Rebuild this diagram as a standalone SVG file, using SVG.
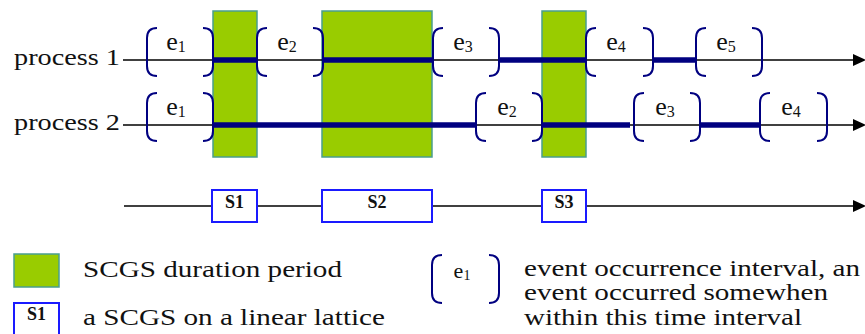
<svg xmlns="http://www.w3.org/2000/svg" xmlns:xlink="http://www.w3.org/1999/xlink" width="865" height="334" viewBox="0 0 865 334">
<style>
.t{font-family:"Liberation Serif","Times New Roman",serif;fill:#111}
.lbl{font-size:24px}
.sb{font-family:"Liberation Serif","Times New Roman",serif;font-weight:bold;font-size:18px;fill:#111}
.green{fill:#99cc00;stroke:#4a9e8e;stroke-width:1.5}
.thin{stroke:#000;stroke-width:1.5;fill:none}
.thick{stroke:#000080;stroke-width:5.5;fill:none}
.br{stroke:#000080;stroke-width:2;fill:none}
.box{fill:#fff;stroke:#1a1aff;stroke-width:2}
</style>
<defs>
<path id="lb" class="br" d="M10 0 C3 0 0 3 0 10 V38 C0 45 3 48 10 48"/>
<path id="rb" class="br" d="M0 0 C7 0 10 3 10 10 V38 C10 45 7 48 0 48"/>
<marker id="arr" markerUnits="userSpaceOnUse" markerWidth="14" markerHeight="12" refX="0" refY="6" orient="auto">
<path d="M0 0 L13 6 L0 12 Z" fill="#000"/>
</marker>
</defs>
<rect width="865" height="334" fill="#fff"/>

<g id="periods">
<rect id="period1" class="green" x="213" y="11" width="44" height="146"/>
<rect id="period2" class="green" x="322" y="11" width="110" height="146"/>
<rect id="period3" class="green" x="542" y="11" width="44" height="146"/>
</g>

<g id="connectors">
<line class="thin" x1="123" y1="60" x2="853" y2="60" marker-end="url(#arr)"/>
<line class="thin" x1="123" y1="125" x2="853" y2="125" marker-end="url(#arr)"/>
<line class="thin" x1="124" y1="206" x2="853" y2="206" marker-end="url(#arr)"/>
<path class="thick" d="M213 60 H257 M322 60 H433 M499 60 H586 M653 60 H696"/>
<path class="thick" d="M213 125 H476 M542 125 H630 M700 125 H760"/>
</g>

<g id="labels">
<text class="t lbl" x="14" y="65" textLength="106" lengthAdjust="spacingAndGlyphs">process 1</text>
<text class="t lbl" x="14" y="130" textLength="106" lengthAdjust="spacingAndGlyphs">process 2</text>
</g>

<g id="p1-events" font-family="Liberation Serif, Times New Roman, serif" font-size="26" fill="#111">
<g id="p1-e1"><use xlink:href="#lb" x="147" y="28"/><use xlink:href="#rb" x="203" y="28"/><text x="176" y="50" text-anchor="middle">e<tspan font-size="16" dy="2">1</tspan></text></g>
<g id="p1-e2"><use xlink:href="#lb" x="257" y="28"/><use xlink:href="#rb" x="313" y="28"/><text x="287" y="50" text-anchor="middle">e<tspan font-size="16" dy="2">2</tspan></text></g>
<g id="p1-e3"><use xlink:href="#lb" x="433" y="28"/><use xlink:href="#rb" x="489" y="28"/><text x="463" y="50" text-anchor="middle">e<tspan font-size="16" dy="2">3</tspan></text></g>
<g id="p1-e4"><use xlink:href="#lb" x="586" y="28"/><use xlink:href="#rb" x="643" y="28"/><text x="616" y="50" text-anchor="middle">e<tspan font-size="16" dy="2">4</tspan></text></g>
<g id="p1-e5"><use xlink:href="#lb" x="696" y="28"/><use xlink:href="#rb" x="752" y="28"/><text x="726" y="50" text-anchor="middle">e<tspan font-size="16" dy="2">5</tspan></text></g>
</g>

<g id="p2-events" font-family="Liberation Serif, Times New Roman, serif" font-size="26" fill="#111">
<g id="p2-e1"><use xlink:href="#lb" x="147" y="93"/><use xlink:href="#rb" x="203" y="93"/><text x="176" y="115" text-anchor="middle">e<tspan font-size="16" dy="2">1</tspan></text></g>
<g id="p2-e2"><use xlink:href="#lb" x="476" y="93"/><use xlink:href="#rb" x="532" y="93"/><text x="507" y="115" text-anchor="middle">e<tspan font-size="16" dy="2">2</tspan></text></g>
<g id="p2-e3"><use xlink:href="#lb" x="634" y="93"/><use xlink:href="#rb" x="690" y="93"/><text x="665" y="115" text-anchor="middle">e<tspan font-size="16" dy="2">3</tspan></text></g>
<g id="p2-e4"><use xlink:href="#lb" x="760" y="93"/><use xlink:href="#rb" x="817" y="93"/><text x="791" y="115" text-anchor="middle">e<tspan font-size="16" dy="2">4</tspan></text></g>
</g>

<g id="lattice">
<g id="S1"><rect class="box" x="212" y="190" width="45" height="32"/><text class="sb" x="234.5" y="208" text-anchor="middle">S1</text></g>
<g id="S2"><rect class="box" x="322" y="190" width="110" height="32"/><text class="sb" x="377" y="208" text-anchor="middle">S2</text></g>
<g id="S3"><rect class="box" x="542" y="190" width="44" height="32"/><text class="sb" x="564" y="208" text-anchor="middle">S3</text></g>
</g>

<g id="legend">
<g id="legend-period"><rect class="green" x="14" y="254" width="45" height="33"/><text class="t lbl" x="83" y="277" textLength="259" lengthAdjust="spacingAndGlyphs">SCGS duration period</text></g>
<g id="legend-scgs"><rect class="box" x="14" y="303" width="45" height="40"/><text class="sb" x="36.5" y="320" text-anchor="middle">S1</text><text class="t lbl" x="83" y="325" textLength="302" lengthAdjust="spacingAndGlyphs">a SCGS on a linear lattice</text></g>
<g id="legend-event"><use xlink:href="#lb" x="432" y="255"/><use xlink:href="#rb" x="489" y="255"/><text x="462" y="278" text-anchor="middle" font-family="Liberation Serif, Times New Roman, serif" font-size="22" fill="#111">e<tspan font-size="14" dy="2">1</tspan></text>
<text class="t lbl" x="524" y="276" textLength="336" lengthAdjust="spacingAndGlyphs">event occurrence interval, an</text>
<text class="t lbl" x="524" y="300" textLength="304" lengthAdjust="spacingAndGlyphs">event occurred somewhen</text>
<text class="t lbl" x="524" y="325" textLength="278" lengthAdjust="spacingAndGlyphs">within this time interval</text>
</g>
</g>
</svg>
